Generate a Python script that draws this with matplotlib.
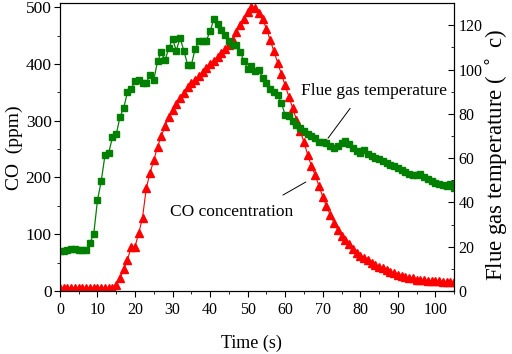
import matplotlib
matplotlib.use('Agg')
import matplotlib.pyplot as plt
from matplotlib.ticker import MultipleLocator

plt.rcParams['font.family'] = ['Liberation Serif', 'DejaVu Serif']

time_s = list(range(0, 106))

co_ppm = [5, 5, 5, 5, 5, 5, 5, 5, 5, 5,
          5, 5, 5, 5, 5, 11, 22, 38, 55, 78,
          78, 102, 129, 181, 208, 230, 254, 273, 290, 307,
          319, 330, 340, 349, 359, 366, 372, 379, 386, 393,
          400, 406, 412, 419, 426, 433, 442, 457, 469, 480,
          492, 500, 498, 490, 479, 462, 442, 422, 402, 382,
          362, 342, 322, 302, 282, 262, 240, 220, 204, 185,
          166, 149, 134, 120, 108, 97, 89, 82, 74, 67,
          62, 58, 54, 50, 46, 43, 40, 37, 34, 31,
          29, 27, 25, 23, 22, 20, 20, 19, 18, 18,
          17, 17, 16, 16, 15, 15]

flue_temp = [18, 18, 18.6, 19, 19, 18.5, 18.6, 18.3, 21.8, 25.6,
             40.9, 49.6, 61.3, 62.4, 69.5, 70.7, 78.6, 82.7, 89.9, 91.4,
             94.7, 95.2, 94, 94, 97.4, 95.3, 103.7, 107.9, 104.2, 109.7,
             113.8, 108.6, 114.3, 108.6, 102.3, 102, 109.3, 112.8, 112.8, 113.1,
             117.3, 122.8, 120.6, 118, 115.8, 113.1, 111.3, 111, 107.9, 104.1,
             100.3, 101.5, 99.2, 100, 96.2, 94, 91.4, 89.9, 88.4, 84.9,
             79.4, 79, 76.7, 74.9, 73.7, 72.2, 70.7, 69.9, 69.1, 67.3,
             67.3, 66.9, 65.7, 64.6, 65.5, 66.9, 67.7, 66.4, 64.4, 63.1,
             62.4, 63.5, 62, 61, 60.1, 59.5, 58.6, 58, 57, 56.4,
             55.5, 54.5, 53.8, 53, 52.6, 52.3, 52.9, 51.5, 50.4, 49.8,
             48.9, 48.5, 47.8, 47.4, 48.2, 46.6]

fig = plt.figure(figsize=(5.12, 3.54), dpi=100)
ax = fig.add_axes([0.117, 0.178, 0.77, 0.813])
ax2 = ax.twinx()

ax.plot(time_s, co_ppm, color='#ff0000', marker='^', markersize=6, lw=0.8)
ax2.plot(time_s, flue_temp, color='#008000', marker='s', markersize=4.2, lw=0.9)

ax.set_xlim(0, 105)
ax.set_ylim(0, 507)
ax2.set_ylim(0, 130)

ax.xaxis.set_major_locator(MultipleLocator(10))
ax.xaxis.set_minor_locator(MultipleLocator(5))
ax.yaxis.set_major_locator(MultipleLocator(100))
ax.yaxis.set_minor_locator(MultipleLocator(50))
ax2.yaxis.set_major_locator(MultipleLocator(20))
ax2.yaxis.set_minor_locator(MultipleLocator(10))

ax.tick_params(axis='both', which='major', direction='out', length=4)
ax.tick_params(axis='both', which='minor', direction='out', length=2.5)
ax.tick_params(axis='y', labelsize=12.5, pad=2)
ax.tick_params(axis='x', labelsize=11.5, pad=4)
ax2.tick_params(axis='y', which='major', direction='in', length=4, labelsize=11.5, pad=3)
ax2.tick_params(axis='y', which='minor', direction='in', length=2.5)

# axis titles placed by hand to match the original layout
fig.text(251 / 512, 1 - 343 / 354, 'Time (s)', fontsize=13, ha='center', va='center')
fig.text(14 / 512, 1 - 148 / 354, 'CO  (ppm)', fontsize=14, rotation=90,
         ha='center', va='center')
fig.text(497 / 512, 1 - 155 / 354, 'Flue gas temperature ( $^\\circ$ c)', fontsize=16.5,
         rotation=90, ha='center', va='center')

ax2.text(64.2, 90.2, 'Flue gas temperature', fontsize=12.5, va='center', ha='left')
ax2.annotate('', xy=(71.4, 69), xytext=(77.3, 82.5),
             arrowprops=dict(arrowstyle='-', color='black', lw=0.7, shrinkA=0, shrinkB=0))
ax.text(29.4, 139, 'CO concentration', fontsize=12.5, va='center', ha='left')
ax.annotate('', xy=(65.5, 192), xytext=(59.4, 169),
            arrowprops=dict(arrowstyle='-', color='black', lw=0.7, shrinkA=0, shrinkB=0))

fig.savefig('out.png', dpi=100)
